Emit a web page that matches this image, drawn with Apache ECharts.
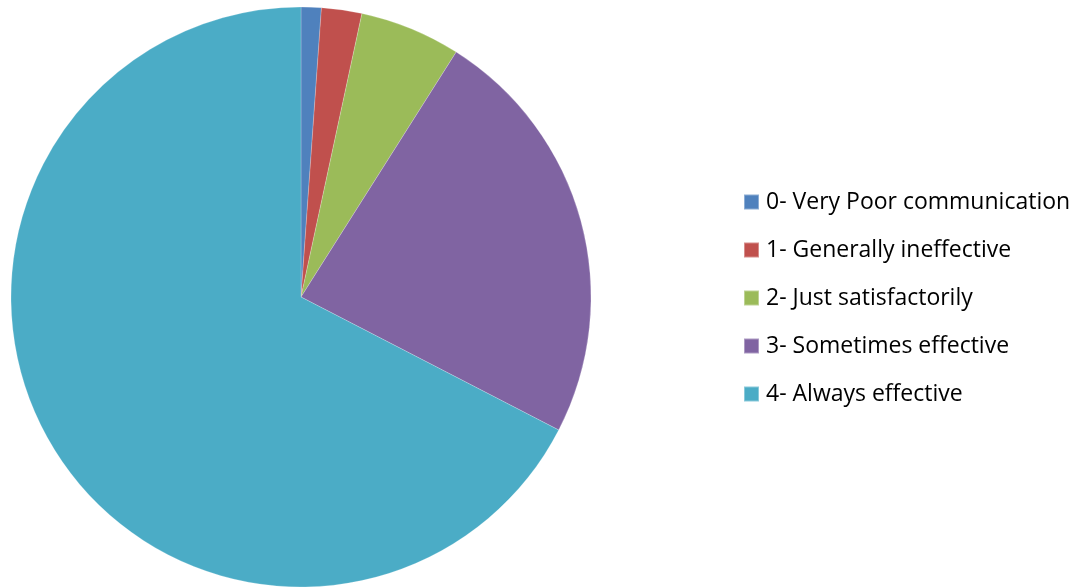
<!DOCTYPE html>
<html>
<head>
<meta charset="utf-8">
<script src="https://cdn.jsdelivr.net/npm/echarts@6/dist/echarts.min.js"></script>
<style>
  html, body { margin: 0; padding: 0; background: #ffffff; }
  #chart { width: 1084px; height: 588px; }
</style>
</head>
<body>
<div id="chart"></div>
<script>
// Survey responses: how effective the communication is
const categories = [
  '0- Very Poor communication',
  '1- Generally ineffective',
  '2- Just satisfactorily',
  '3- Sometimes effective',
  '4- Always effective'
];
const counts = [1, 2, 5, 21, 60];
const colors = ['#4F81BD', '#C0504D', '#9BBB59', '#8064A2', '#4BACC6'];

const chart = echarts.init(document.getElementById('chart'), null, { renderer: 'canvas' });

chart.setOption({
  animation: false,
  backgroundColor: '#ffffff',
  color: colors,
  legend: {
    orient: 'vertical',
    left: 738,
    top: 185.5,
    itemWidth: 15,
    itemHeight: 15,
    itemGap: 25,
    icon: 'rect',
    textStyle: {
      fontFamily: '"Open Sans", sans-serif',
      fontSize: 23,
      color: '#000000',
      padding: [0, 0, 0, 2]
    },
    data: categories
  },
  series: [{
    type: 'pie',
    center: [301, 297],
    radius: 290,
    startAngle: 90,
    clockwise: true,
    label: { show: false },
    labelLine: { show: false },
    emphasis: { disabled: true },
    itemStyle: { borderColor: 'rgba(255,255,255,0.35)', borderWidth: 0.6 },
    data: categories.map((name, i) => ({ name, value: counts[i] }))
  }]
});
</script>
</body>
</html>
